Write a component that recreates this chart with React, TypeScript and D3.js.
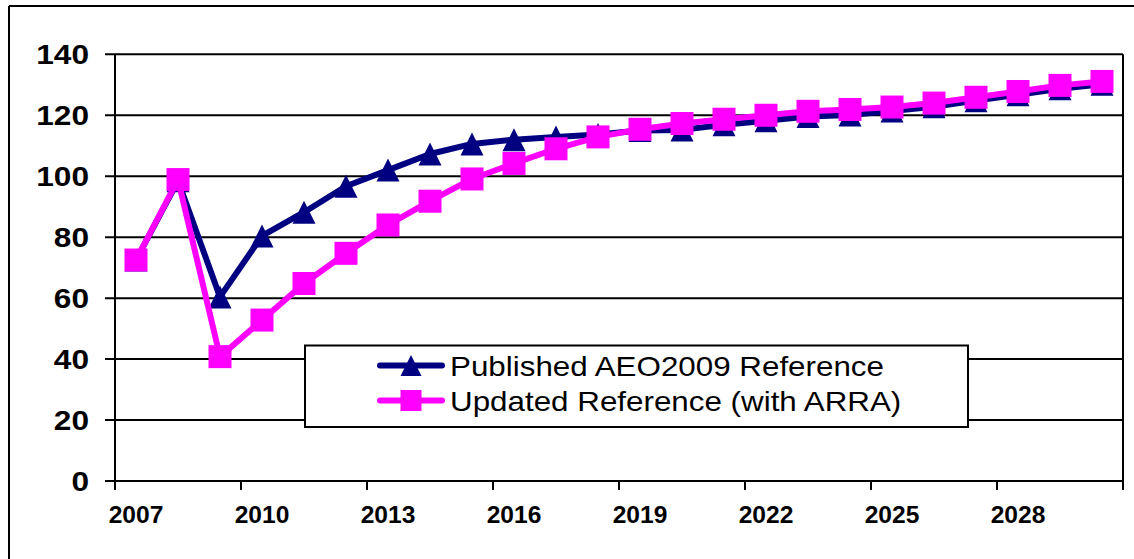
import React from 'react';
import * as d3 from 'd3';

const years = d3.range(2007, 2031).map(String);
const yTicks = [0, 20, 40, 60, 80, 100, 120, 140];
const xLabels = ['2007', '2010', '2013', '2016', '2019', '2022', '2025', '2028'];

const published = [
  72.5, 98.5, 60.4, 80.4, 88.2, 96.7, 102, 107.3, 110.6, 112, 112.9, 113.7,
  115, 115.2, 116.9, 118.2, 119.6, 120.1, 121.4, 122.8, 124.8, 126.7, 128.7, 130.2,
];
const updated = [
  72.5, 98.9, 40.8, 52.8, 64.8, 74.7, 84, 91.8, 99.1, 104.2, 109, 112.9,
  115.4, 117.3, 118.7, 120, 121.3, 121.9, 122.7, 124, 125.9, 127.8, 129.8, 131.1,
];

const seriesNames = ['Published AEO2009 Reference', 'Updated Reference (with ARRA)'];
const NAVY = '#000080';
const PINK = '#FF00FF';
const FONT = "'Liberation Sans', Arial, sans-serif";

const W = 1134;
const H = 559;

export default function App() {
  const x = d3.scaleBand<string>().domain(years).range([115, 1123]).padding(0);
  const y = d3.scaleLinear().domain([0, 140]).range([481, 54.3]);
  const cx = (d: string) => (x(d) || 0) + x.bandwidth() / 2;

  const line = d3.line<number>()
    .x((_, i) => cx(years[i]))
    .y(d => y(d));

  const tri = (px: number, py: number, s: number) =>
    `M${px},${py - s / 2}L${px + s / 2},${py + s / 2}L${px - s / 2},${py + s / 2}Z`;

  const msize = 23;
  // tick marks on the category axis every 3 categories
  const xTickPos = d3.range(0, years.length + 1, 3).map(i => 115 + i * x.bandwidth());

  return (
    <svg width={W} height={H} style={{ position: 'absolute', left: 0, top: 0, background: '#fff' }}>
      {/* outer chart border (left and top visible) */}
      <line x1={9} y1={6} x2={9} y2={H} stroke="#000" strokeWidth={2} />
      <line x1={9} y1={6} x2={W} y2={6} stroke="#000" strokeWidth={2} />

      {/* gridlines + y ticks */}
      {yTicks.map(t => (
        <line key={t} x1={105} x2={1123} y1={y(t)} y2={y(t)} stroke="#000" strokeWidth={2} />
      ))}
      {/* axes / plot border */}
      <line x1={115} x2={115} y1={y(140)} y2={490} stroke="#000" strokeWidth={2} />
      <line x1={1123} x2={1123} y1={y(140)} y2={490} stroke="#000" strokeWidth={2} />
      {xTickPos.map((p, i) => (
        <line key={i} x1={p} x2={p} y1={481} y2={490} stroke="#000" strokeWidth={2} />
      ))}

      {/* y labels */}
      {yTicks.map(t => (
        <g key={t} transform={`translate(89,${y(t) + 10}) scale(1.13,1)`}>
          <text textAnchor="end" fontFamily={FONT} fontWeight="bold" fontSize={28} fill="#000">{t}</text>
        </g>
      ))}
      {/* x labels */}
      {xLabels.map(l => (
        <g key={l} transform={`translate(${cx(l)},523) scale(1.07,1)`}>
          <text textAnchor="middle" fontFamily={FONT} fontWeight="bold" fontSize={23} fill="#000">{l}</text>
        </g>
      ))}

      {/* series 1 */}
      <path d={line(published) || ''} fill="none" stroke={NAVY} strokeWidth={6} strokeLinejoin="round" />
      {published.map((v, i) => (
        <path key={i} d={tri(cx(years[i]), y(v), msize)} fill={NAVY} />
      ))}
      {/* series 2 */}
      <path d={line(updated) || ''} fill="none" stroke={PINK} strokeWidth={6} strokeLinejoin="round" />
      {updated.map((v, i) => (
        <rect key={i} x={cx(years[i]) - msize / 2} y={y(v) - msize / 2} width={msize} height={msize} fill={PINK} />
      ))}

      {/* legend */}
      <rect x={305} y={345.5} width={663} height={81.5} fill="#fff" stroke="#000" strokeWidth={2} />
      {seriesNames.map((name, i) => {
        const ly = 365.5 + i * 35;
        const color = i === 0 ? NAVY : PINK;
        return (
          <g key={name}>
            <line x1={380} x2={442} y1={ly} y2={ly} stroke={color} strokeWidth={6} strokeLinecap="round" />
            {i === 0 ? (
              <path d={tri(411, ly, 21)} fill={color} />
            ) : (
              <rect x={411 - 10.5} y={ly - 10.5} width={21} height={21} fill={color} />
            )}
            <g transform={`translate(450,${ly + 10}) scale(1.12,1)`}>
              <text fontFamily={FONT} fontSize={28} fill="#000">{name}</text>
            </g>
          </g>
        );
      })}
    </svg>
  );
}
